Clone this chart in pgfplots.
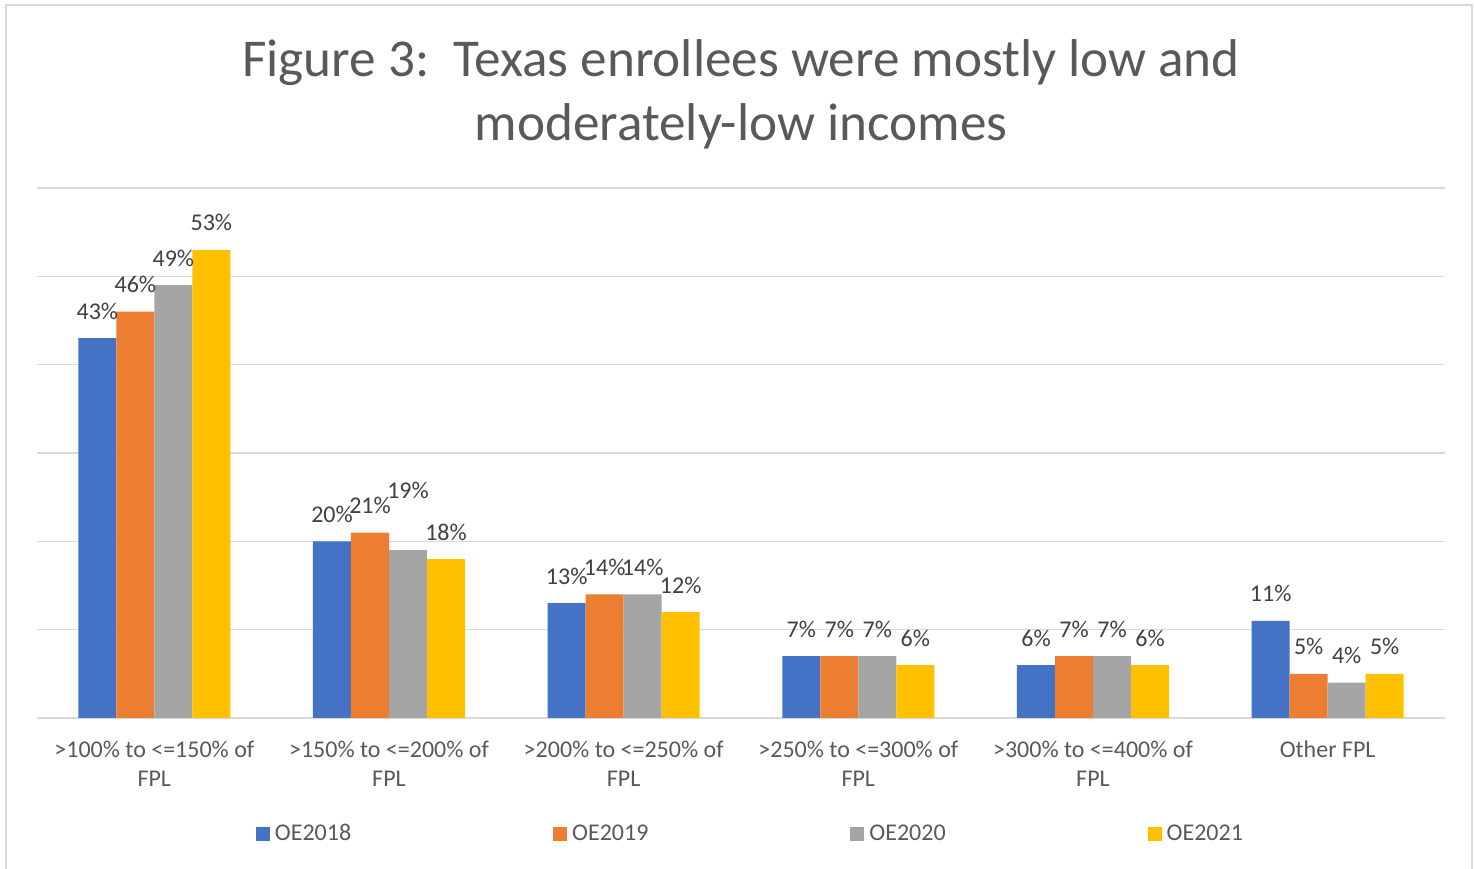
\documentclass[border=0pt]{standalone}
\usepackage{pgfplots}
\pgfplotsset{compat=1.18}
\usepackage{pgfplotstable}
\usepackage{fontspec}
\setmainfont{Carlito}
\definecolor{cA}{HTML}{4472C4}
\definecolor{cB}{HTML}{ED7D31}
\definecolor{cC}{HTML}{A5A5A5}
\definecolor{cD}{HTML}{FFC000}
\definecolor{gridc}{HTML}{D9D9D9}
\definecolor{txt}{HTML}{595959}
\definecolor{lbl}{HTML}{404040}
\pgfplotstableread{
x a  b  c  d  dyc
0 43 46 49 53 0
1 20 21 19 18 16.5
2 13 14 14 12 0
3 7  7  7  6  0
4 6  7  7  6  0
5 11 5  4  5  0
}\datatable
\begin{document}
\begin{tikzpicture}
\useasboundingbox (0,0) rectangle (737bp,434.5bp);
\draw[gridc, line width=0.8bp] (3bp,-5bp) -- (3bp,432bp) -- (736bp,432bp) -- (736bp,-5bp);
\begin{axis}[
  at={(18.5bp,75.5bp)}, anchor=south west,
  scale only axis, width=704bp, height=265bp,
  xmin=-0.5, xmax=5.5, ymin=0, ymax=60,
  ytick={0,10,...,60}, yticklabels={},
  ymajorgrids, grid style={gridc, line width=0.8bp},
  axis line style={draw=none}, tick style={draw=none},
  major tick length=0pt,
  /pgf/number format/assume math mode=true,
  xtick={0,...,5},
  xticklabels={{>100\% to <=150\% of\\FPL},{>150\% to <=200\% of\\FPL},{>200\% to <=250\% of\\FPL},{>250\% to <=300\% of\\FPL},{>300\% to <=400\% of\\FPL},{Other FPL}},
  xticklabel style={align=center, font=\fontsize{12bp}{14.5bp}\selectfont, text=txt, yshift=-8bp},
  ybar=0pt, bar width=19bp,
  nodes near coords={\pgfmathprintnumber[fixed,precision=0,assume math mode=true]{\pgfplotspointmeta}\%},
  every node near coord/.append style={anchor=center, yshift=13.5bp, font=\fontsize{12bp}{14bp}\selectfont, text=lbl},
  legend columns=4,
  legend style={at={(0.506,-0.219)}, anchor=center, draw=none, fill=none,
    font=\fontsize{12bp}{14bp}\selectfont, text=txt,
    nodes={inner xsep=0pt},
    /tikz/every odd column/.append style={column sep=2.5bp},
    /tikz/every even column/.append style={column sep=101bp}},
  legend image code/.code={\fill[#1] (0bp,-3.5bp) rectangle (7bp,3.5bp);},
]
\addplot[fill=cA, draw=none] table[x=x, y=a] {\datatable};
\addplot[fill=cB, draw=none] table[x=x, y=b] {\datatable};
\addplot[fill=cC, draw=none, visualization depends on={\thisrow{dyc} \as \dyc},
  every node near coord/.append style={yshift=\dyc bp}] table[x=x, y=c] {\datatable};
\addplot[fill=cD, draw=none] table[x=x, y=d] {\datatable};
\legend{OE2018,OE2019,OE2020,OE2021}
\end{axis}
\node[anchor=base, text=txt, font=\fontsize{26.6bp}{32bp}\selectfont] at (370.5bp,396bp) {Figure 3:\ \ Texas enrollees were mostly low and};
\node[anchor=base, text=txt, font=\fontsize{26.6bp}{32bp}\selectfont] at (370.5bp,364bp) {moderately-low incomes};
\end{tikzpicture}
\end{document}
